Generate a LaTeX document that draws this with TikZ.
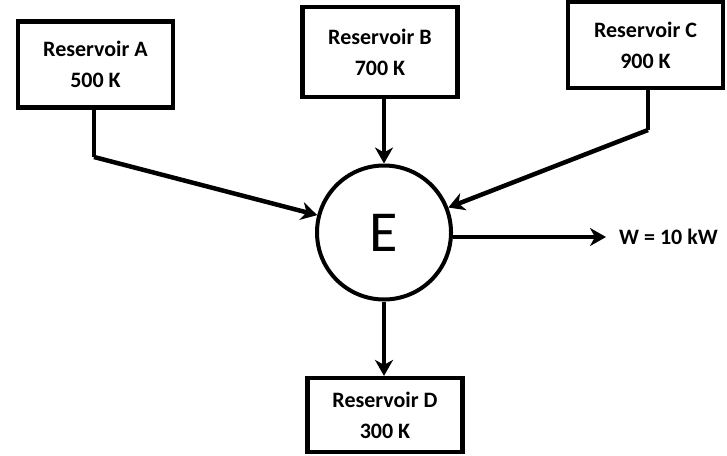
\documentclass[tikz,border=0pt]{standalone}
\usepackage{fontspec}
\setmainfont{Carlito}
\usetikzlibrary{arrows.meta}
\begin{document}
\begin{tikzpicture}[x=1pt,y=-1pt,
  resbox/.style={draw,line width=4.2pt,minimum width=155pt,minimum height=86pt,inner sep=0pt,
    align=center,font=\fontsize{22}{31}\selectfont\bfseries},
  conn/.style={line width=4.5pt},
  arr/.style={line width=4.5pt,-{Stealth[length=16pt,width=18pt,inset=5pt]}},
  engine/.style={draw,circle,line width=4pt,minimum size=134pt,inner sep=0pt,
    font=\fontsize{58}{58}\selectfont}]
\useasboundingbox (0,0) rectangle (727,455);
\node[resbox] (A) at (95.5,64.5) {Reservoir A\\500 K};
\node[resbox,minimum height=90pt] (B) at (380,52) {Reservoir B\\700 K};
\node[resbox] (C) at (645.5,45) {Reservoir C\\900 K};
\node[resbox,minimum height=74pt] (D) at (385,415) {Reservoir D\\300 K};
\node[engine] (E) at (384,232.5) {E};
\node[font=\fontsize{22}{22}\selectfont\bfseries,anchor=west,inner sep=0pt] (W) at (619,237) {W = 10 kW};
\coordinate (ka) at (94,157);
\coordinate (kc) at (648,130);
\draw[conn] (A.south -| ka) -- (ka);
\draw[arr] (ka) -- (E);
\draw[conn] (C.south -| kc) -- (kc);
\draw[arr] (kc) -- (E);
\draw[arr] (E.north |- B.south) -- (E.north);
\draw[arr] (E.south) -- (E.south |- D.north);
\draw[arr,shorten >=13pt] (E.east |- W.west) -- (W.west);
\end{tikzpicture}
\end{document}
